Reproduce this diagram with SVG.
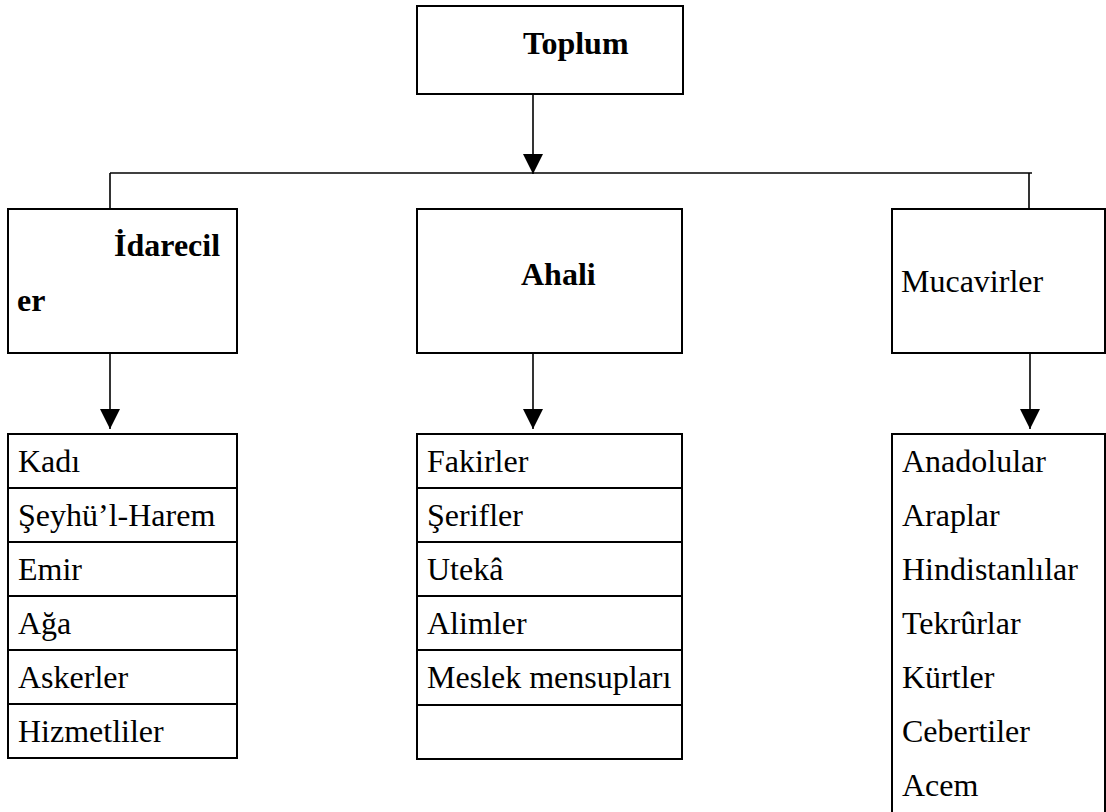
<svg xmlns="http://www.w3.org/2000/svg" width="1106" height="812" viewBox="0 0 1106 812">
  <style>
    .box { fill: #fff; stroke: #000; stroke-width: 2; }
    .conn { fill: none; stroke: #000; stroke-width: 1.6; }
    .div { stroke: #000; stroke-width: 2; }
    .t { font-family: "Liberation Serif", "Times New Roman", serif; font-size: 32px; fill: #000; }
    .b { font-weight: bold; }
  </style>
  <defs>
    <marker id="arr" markerUnits="userSpaceOnUse" markerWidth="20" markerHeight="20" refX="20" refY="10" orient="auto">
      <path d="M0,0 L20,10 L0,20 z" fill="#000"/>
    </marker>
  </defs>

  <g id="connectors">
    <line class="conn" x1="533" y1="94" x2="533" y2="174" marker-end="url(#arr)"/>
    <line class="conn" x1="110" y1="173" x2="1032" y2="173"/>
    <line class="conn" x1="110" y1="173" x2="110" y2="210"/>
    <line class="conn" x1="1029" y1="173" x2="1029" y2="210"/>
    <line class="conn" x1="110" y1="353" x2="110" y2="429" marker-end="url(#arr)"/>
    <line class="conn" x1="533" y1="353" x2="533" y2="429" marker-end="url(#arr)"/>
    <line class="conn" x1="1030" y1="353" x2="1030" y2="429" marker-end="url(#arr)"/>
  </g>

  <g id="toplum">
    <rect class="box" x="417" y="6" width="266" height="88"/>
    <text class="t b" x="523" y="54">Toplum</text>
  </g>

  <g id="idareciller">
    <rect class="box" x="8" y="209" width="229" height="144"/>
    <text class="t b" x="114" y="256">İdarecil</text>
    <text class="t b" x="17" y="311">er</text>
  </g>

  <g id="ahali">
    <rect class="box" x="417" y="209" width="265" height="144"/>
    <text class="t b" x="521" y="285">Ahali</text>
  </g>

  <g id="mucavirler">
    <rect class="box" x="892" y="209" width="213" height="144"/>
    <text class="t" x="901" y="292">Mucavirler</text>
  </g>

  <g id="idareciller-list">
    <rect class="box" x="8" y="434" width="229" height="324"/>
    <line class="div" x1="8" y1="488" x2="237" y2="488"/>
    <line class="div" x1="8" y1="542" x2="237" y2="542"/>
    <line class="div" x1="8" y1="596" x2="237" y2="596"/>
    <line class="div" x1="8" y1="650" x2="237" y2="650"/>
    <line class="div" x1="8" y1="704" x2="237" y2="704"/>
    <text class="t" x="18" y="472">Kadı</text>
    <text class="t" x="18" y="526">Şeyhü’l-Harem</text>
    <text class="t" x="18" y="580">Emir</text>
    <text class="t" x="18" y="634">Ağa</text>
    <text class="t" x="18" y="688">Askerler</text>
    <text class="t" x="18" y="742">Hizmetliler</text>
  </g>

  <g id="ahali-list">
    <rect class="box" x="417" y="434" width="265" height="325"/>
    <line class="div" x1="417" y1="488" x2="682" y2="488"/>
    <line class="div" x1="417" y1="542" x2="682" y2="542"/>
    <line class="div" x1="417" y1="596" x2="682" y2="596"/>
    <line class="div" x1="417" y1="650" x2="682" y2="650"/>
    <line class="div" x1="417" y1="705" x2="682" y2="705"/>
    <text class="t" x="427" y="472">Fakirler</text>
    <text class="t" x="427" y="526">Şerifler</text>
    <text class="t" x="427" y="580">Utekâ</text>
    <text class="t" x="427" y="634">Alimler</text>
    <text class="t" x="427" y="688">Meslek mensupları</text>
  </g>

  <g id="mucavirler-list">
    <path class="box" d="M892,830 V434 H1105 V830"/>
    <text class="t" x="902" y="472">Anadolular</text>
    <text class="t" x="902" y="526">Araplar</text>
    <text class="t" x="902" y="580">Hindistanlılar</text>
    <text class="t" x="902" y="634">Tekrûrlar</text>
    <text class="t" x="902" y="688">Kürtler</text>
    <text class="t" x="902" y="742">Cebertiler</text>
    <text class="t" x="902" y="796">Acem</text>
  </g>
</svg>
